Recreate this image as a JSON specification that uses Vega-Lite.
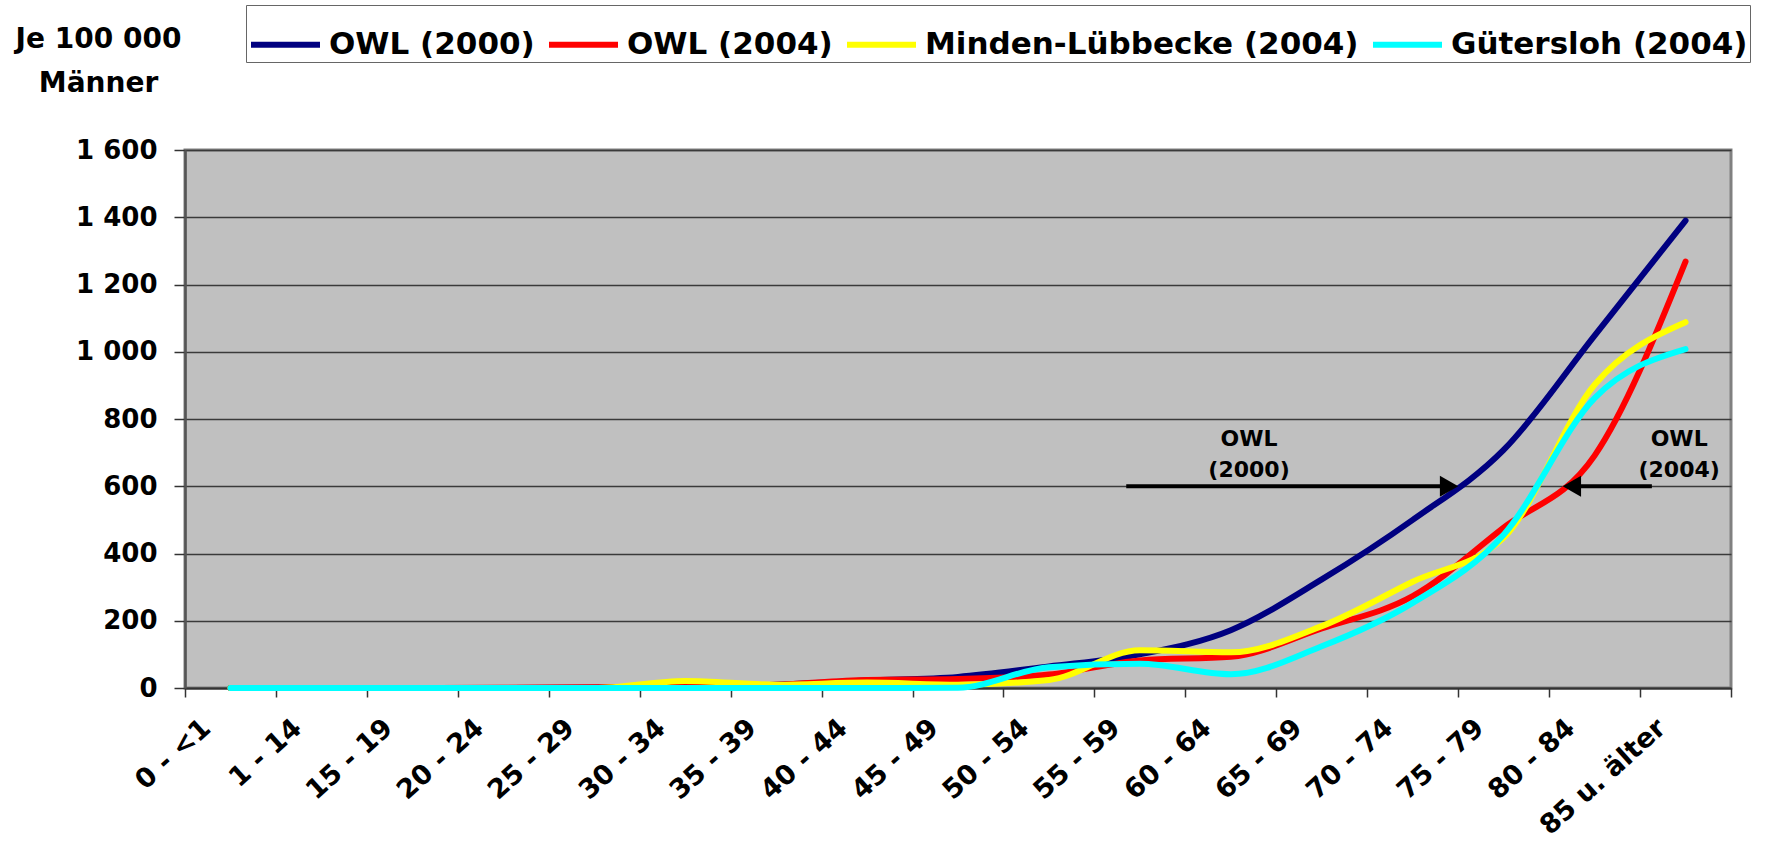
{
  "$schema": "https://vega.github.io/schema/vega-lite/v6.json",
  "width": 1546,
  "height": 538,
  "autosize": {"type": "none"},
  "padding": {"left": 185, "top": 150, "right": 54, "bottom": 155},
  "background": "white",
  "config": {
    "font": "DejaVu Sans",
    "view": {"fill": "#C0C0C0", "stroke": "#808080", "strokeWidth": 3}
  },
  "datasets": {
    "rates": [
      {"age": "0 - <1", "series": "OWL (2000)", "value": 0},
      {"age": "1 - 14", "series": "OWL (2000)", "value": 0},
      {"age": "15 - 19", "series": "OWL (2000)", "value": 0},
      {"age": "20 - 24", "series": "OWL (2000)", "value": 0},
      {"age": "25 - 29", "series": "OWL (2000)", "value": 1},
      {"age": "30 - 34", "series": "OWL (2000)", "value": 5},
      {"age": "35 - 39", "series": "OWL (2000)", "value": 10},
      {"age": "40 - 44", "series": "OWL (2000)", "value": 22},
      {"age": "45 - 49", "series": "OWL (2000)", "value": 33},
      {"age": "50 - 54", "series": "OWL (2000)", "value": 64},
      {"age": "55 - 59", "series": "OWL (2000)", "value": 100},
      {"age": "60 - 64", "series": "OWL (2000)", "value": 172},
      {"age": "65 - 69", "series": "OWL (2000)", "value": 323},
      {"age": "70 - 74", "series": "OWL (2000)", "value": 500},
      {"age": "75 - 79", "series": "OWL (2000)", "value": 708},
      {"age": "80 - 84", "series": "OWL (2000)", "value": 1048},
      {"age": "85 u. älter", "series": "OWL (2000)", "value": 1390},
      {"age": "0 - <1", "series": "OWL (2004)", "value": 0},
      {"age": "1 - 14", "series": "OWL (2004)", "value": 0},
      {"age": "15 - 19", "series": "OWL (2004)", "value": 0},
      {"age": "20 - 24", "series": "OWL (2004)", "value": 1},
      {"age": "25 - 29", "series": "OWL (2004)", "value": 2},
      {"age": "30 - 34", "series": "OWL (2004)", "value": 4},
      {"age": "35 - 39", "series": "OWL (2004)", "value": 10},
      {"age": "40 - 44", "series": "OWL (2004)", "value": 24},
      {"age": "45 - 49", "series": "OWL (2004)", "value": 27},
      {"age": "50 - 54", "series": "OWL (2004)", "value": 40},
      {"age": "55 - 59", "series": "OWL (2004)", "value": 82},
      {"age": "60 - 64", "series": "OWL (2004)", "value": 93},
      {"age": "65 - 69", "series": "OWL (2004)", "value": 177},
      {"age": "70 - 74", "series": "OWL (2004)", "value": 273},
      {"age": "75 - 79", "series": "OWL (2004)", "value": 477},
      {"age": "80 - 84", "series": "OWL (2004)", "value": 691},
      {"age": "85 u. älter", "series": "OWL (2004)", "value": 1268},
      {"age": "0 - <1", "series": "Minden-Lübbecke (2004)", "value": 0},
      {"age": "1 - 14", "series": "Minden-Lübbecke (2004)", "value": 0},
      {"age": "15 - 19", "series": "Minden-Lübbecke (2004)", "value": 0},
      {"age": "20 - 24", "series": "Minden-Lübbecke (2004)", "value": 0},
      {"age": "25 - 29", "series": "Minden-Lübbecke (2004)", "value": 0},
      {"age": "30 - 34", "series": "Minden-Lübbecke (2004)", "value": 21},
      {"age": "35 - 39", "series": "Minden-Lübbecke (2004)", "value": 10},
      {"age": "40 - 44", "series": "Minden-Lübbecke (2004)", "value": 16},
      {"age": "45 - 49", "series": "Minden-Lübbecke (2004)", "value": 10},
      {"age": "50 - 54", "series": "Minden-Lübbecke (2004)", "value": 24},
      {"age": "55 - 59", "series": "Minden-Lübbecke (2004)", "value": 112},
      {"age": "60 - 64", "series": "Minden-Lübbecke (2004)", "value": 106},
      {"age": "65 - 69", "series": "Minden-Lübbecke (2004)", "value": 184},
      {"age": "70 - 74", "series": "Minden-Lübbecke (2004)", "value": 316},
      {"age": "75 - 79", "series": "Minden-Lübbecke (2004)", "value": 447},
      {"age": "80 - 84", "series": "Minden-Lübbecke (2004)", "value": 902},
      {"age": "85 u. älter", "series": "Minden-Lübbecke (2004)", "value": 1088},
      {"age": "0 - <1", "series": "Gütersloh (2004)", "value": 0},
      {"age": "1 - 14", "series": "Gütersloh (2004)", "value": 0},
      {"age": "15 - 19", "series": "Gütersloh (2004)", "value": 0},
      {"age": "20 - 24", "series": "Gütersloh (2004)", "value": 0},
      {"age": "25 - 29", "series": "Gütersloh (2004)", "value": 0},
      {"age": "30 - 34", "series": "Gütersloh (2004)", "value": 0},
      {"age": "35 - 39", "series": "Gütersloh (2004)", "value": 0},
      {"age": "40 - 44", "series": "Gütersloh (2004)", "value": 0},
      {"age": "45 - 49", "series": "Gütersloh (2004)", "value": 1},
      {"age": "50 - 54", "series": "Gütersloh (2004)", "value": 62},
      {"age": "55 - 59", "series": "Gütersloh (2004)", "value": 72},
      {"age": "60 - 64", "series": "Gütersloh (2004)", "value": 41},
      {"age": "65 - 69", "series": "Gütersloh (2004)", "value": 124},
      {"age": "70 - 74", "series": "Gütersloh (2004)", "value": 253},
      {"age": "75 - 79", "series": "Gütersloh (2004)", "value": 456},
      {"age": "80 - 84", "series": "Gütersloh (2004)", "value": 862},
      {"age": "85 u. älter", "series": "Gütersloh (2004)", "value": 1008}
    ],
    "arrows": [
      {"from": 9.85, "to": 13.38, "level": 600},
      {"from": 15.63, "to": 14.77, "level": 600}
    ],
    "headsRight": [{"at": 13.4, "level": 600}],
    "headsLeft": [{"at": 14.75, "level": 600}],
    "notes": [
      {"at": 11.2, "level": 740, "text": "OWL"},
      {"at": 11.2, "level": 648, "text": "(2000)"},
      {"at": 15.93, "level": 740, "text": "OWL"},
      {"at": 15.93, "level": 648, "text": "(2004)"}
    ]
  },
  "layer": [
    {
      "data": {"name": "rates"},
      "mark": {"type": "line", "interpolate": "monotone", "strokeWidth": 6, "strokeCap": "round", "strokeJoin": "round"},
      "encoding": {
        "x": {
          "field": "age", "type": "nominal", "sort": null, "bandPosition": 0.5,
          "scale": {"type": "band", "paddingInner": 0, "paddingOuter": 0},
          "axis": {
            "title": null, "tickBand": "extent", "labelAngle": -42, "labelAlign": "right", "labelBaseline": "middle",
            "labelFont": "DejaVu Sans", "labelFontSize": 27, "labelFontWeight": "bold", "labelColor": "black",
            "labelPadding": 27, "labelOffset": -24, "tickSize": 9, "tickColor": "#333333", "tickWidth": 1.5,
            "domainColor": "#333333", "domainWidth": 2, "grid": false, "labelOverlap": false, "labelBound": false, "labelFlush": false
          }
        },
        "y": {
          "field": "value", "type": "quantitative",
          "scale": {"domain": [0, 1600], "nice": false},
          "axis": {
            "values": [0, 200, 400, 600, 800, 1000, 1200, 1400, 1600],
            "labelExpr": "replace(format(datum.value, ','), ',', ' ')",
            "title": ["Je 100 000", "Männer"], "titleAngle": 0, "titleAlign": "center", "titleBaseline": "alphabetic",
            "titleX": -87, "titleY": -103, "titleLineHeight": 44, "titleFont": "DejaVu Sans", "titleFontSize": 28,
            "titleFontWeight": "bold", "titleColor": "black",
            "labelFont": "DejaVu Sans", "labelFontSize": 26, "labelFontWeight": "bold", "labelColor": "black",
            "labelPadding": 17, "tickSize": 11, "tickColor": "#333333", "tickWidth": 1.5,
            "domainColor": "#555555", "domainWidth": 2.5, "grid": true, "gridColor": "#3a3a3a", "gridWidth": 1.5
          }
        },
        "color": {
          "field": "series", "type": "nominal",
          "scale": {
            "domain": ["OWL (2000)", "OWL (2004)", "Minden-Lübbecke (2004)", "Gütersloh (2004)"],
            "range": ["#000080", "#FF0000", "#FFFF00", "#00FFFF"]
          },
          "legend": {
            "orient": "none", "legendX": 61, "legendY": -145, "direction": "horizontal", "title": null,
            "symbolType": "stroke", "symbolSize": 4761, "symbolStrokeWidth": 6,
            "labelFont": "DejaVu Sans", "labelFontSize": 31, "labelFontWeight": "bold", "labelColor": "black",
            "labelOffset": 6, "columnPadding": 2, "padding": 2, "strokeColor": "#666666", "fillColor": "white",
            "labelLimit": 800
          }
        }
      }
    },
    {
      "layer": [
        {
          "data": {"name": "arrows"},
          "mark": {"type": "rule", "strokeWidth": 4, "color": "black"},
          "encoding": {
            "x": {"field": "from", "type": "quantitative", "scale": {"domain": [-0.5, 16.5], "nice": false, "zero": false}, "axis": null},
            "x2": {"field": "to"},
            "y": {"field": "level", "type": "quantitative"}
          }
        },
        {
          "data": {"name": "headsRight"},
          "mark": {"type": "point", "shape": "triangle-right", "filled": true, "color": "black", "size": 450, "opacity": 1},
          "encoding": {
            "x": {"field": "at", "type": "quantitative", "axis": null},
            "y": {"field": "level", "type": "quantitative"}
          }
        },
        {
          "data": {"name": "headsLeft"},
          "mark": {"type": "point", "shape": "triangle-left", "filled": true, "color": "black", "size": 450, "opacity": 1},
          "encoding": {
            "x": {"field": "at", "type": "quantitative", "axis": null},
            "y": {"field": "level", "type": "quantitative"}
          }
        },
        {
          "data": {"name": "notes"},
          "mark": {"type": "text", "font": "DejaVu Sans", "fontSize": 22, "fontWeight": "bold", "color": "black", "align": "center", "baseline": "middle"},
          "encoding": {
            "x": {"field": "at", "type": "quantitative", "axis": null},
            "y": {"field": "level", "type": "quantitative"},
            "text": {"field": "text", "type": "nominal"}
          }
        }
      ]
    }
  ],
  "resolve": {"scale": {"x": "independent"}}
}
